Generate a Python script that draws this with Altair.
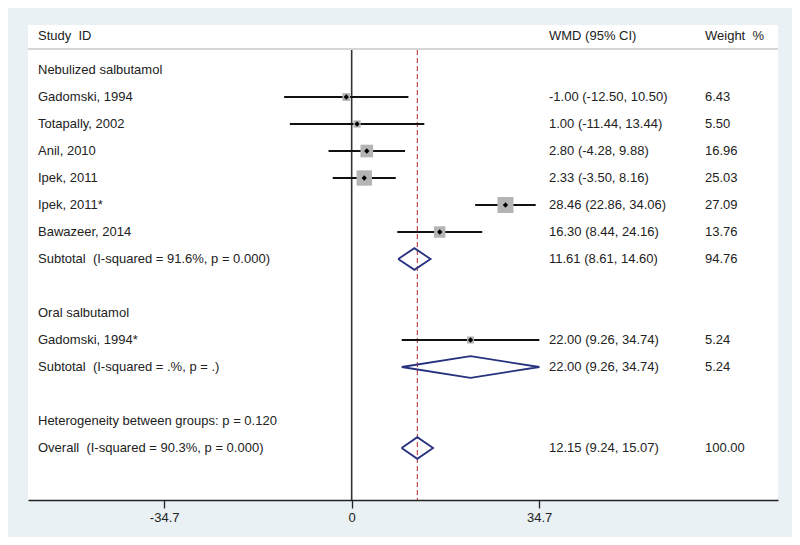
import altair as alt
import pandas as pd

# ---- data ----
row_labels = [
    "Nebulized salbutamol", "Gadomski, 1994", "Totapally, 2002", "Anil, 2010",
    "Ipek, 2011", "Ipek, 2011*", "Bawazeer, 2014",
    "Subtotal\u00a0\u00a0(I-squared = 91.6%, p = 0.000)", "",
    "Oral salbutamol", "Gadomski, 1994*",
    "Subtotal\u00a0\u00a0(I-squared = .%, p = .)", "",
    "Heterogeneity between groups: p = 0.120",
    "Overall\u00a0\u00a0(I-squared = 90.3%, p = 0.000)",
]

study_rows = [1, 2, 3, 4, 5, 6, 10]
study_est = [-1.00, 1.00, 2.80, 2.33, 28.46, 16.30, 22.00]
study_lo = [-12.50, -11.44, -4.28, -3.50, 22.86, 8.44, 9.26]
study_hi = [10.50, 13.44, 9.88, 8.16, 34.06, 24.16, 34.74]
study_w = ["6.43", "5.50", "16.96", "25.03", "27.09", "13.76", "5.24"]

sum_rows = [7, 11, 14]
sum_est = [11.61, 22.00, 12.15]
sum_lo = [8.61, 9.26, 9.24]
sum_hi = [14.60, 34.74, 15.07]
sum_w = ["94.76", "5.24", "100.00"]

overall_est = 12.15
x_ticks = [-34.7, 0, 34.7]

# ---- tables ----
FONT = "Liberation Sans"
TXT = "#222222"

studies = pd.DataFrame({
    "row": study_rows, "est": study_est, "lo": study_lo, "hi": study_hi,
    "w": [float(w) for w in study_w], "wtxt": study_w,
})
studies["ci"] = [f"{e:.2f} ({l:.2f}, {h:.2f})" for e, l, h in zip(study_est, study_lo, study_hi)]

sums = pd.DataFrame({"row": sum_rows, "est": sum_est, "lo": sum_lo, "hi": sum_hi, "wtxt": sum_w})
sums["ci"] = [f"{e:.2f} ({l:.2f}, {h:.2f})" for e, l, h in zip(sum_est, sum_lo, sum_hi)]

dia = []
for g, (r, e, l, h) in enumerate(zip(sum_rows, sum_est, sum_lo, sum_hi)):
    pts = [(l, r), (e, r - 0.4), (h, r), (e, r + 0.4), (l, r)]
    for i, (xx, yy) in enumerate(pts):
        dia.append({"g": g, "i": i, "x": xx, "y": yy})
dia = pd.DataFrame(dia)

labels = pd.DataFrame({"row": list(range(len(row_labels))), "label": row_labels})
header = pd.DataFrame({"row": [-1.26], "a": ["Study\u00a0\u00a0ID"], "b": ["WMD (95% CI)"], "c": ["Weight\u00a0\u00a0%"]})

xs = alt.Scale(domain=[-59.9, 78.9], nice=False, zero=False)
ys = alt.Scale(domain=[-1.667, 15.926], reverse=True, nice=False, zero=False)
Y = lambda f: alt.Y(f, type="quantitative", scale=ys, axis=None)

def txt(df, field, xpx, rowfield="row"):
    return alt.Chart(df).mark_text(
        align="left", baseline="middle", font=FONT, fontSize=13, color=TXT
    ).encode(x=alt.value(xpx), y=Y(rowfield), text=f"{field}:N")

base_axis = alt.Chart(pd.DataFrame({"v": [0]})).mark_rule(color="#333333", strokeWidth=1.6).encode(
    x=alt.X("v:Q", scale=xs, axis=alt.Axis(
        values=x_ticks, title=None, grid=False, labelFont=FONT, labelFontSize=13,
        labelColor=TXT, tickSize=8, tickColor="#222222", domainColor="#222222",
        domainWidth=1.5, tickWidth=1.3, labelPadding=3,
        labelExpr="'' + datum.value")),
    y=alt.value(25), y2=alt.value(475),
)

sep = alt.Chart(pd.DataFrame({"v": [0]})).mark_rule(color="#d6d6d6", strokeWidth=2).encode(
    x=alt.value(0), x2=alt.value(750), y=alt.value(24)
)

ref = alt.Chart(pd.DataFrame({"v": [overall_est]})).mark_rule(
    color="#b5262c", strokeWidth=1, strokeDash=[5, 3]
).encode(x=alt.X("v:Q", scale=xs), y=alt.value(25), y2=alt.value(475))

squares = alt.Chart(studies).mark_square(color="#b4b4b4", opacity=1).encode(
    x=alt.X("est:Q", scale=xs), y=Y("row"),
    size=alt.Size("w:Q", scale=alt.Scale(domain=[0, 27.09], range=[0, 256], zero=True), legend=None),
)

ci = alt.Chart(studies).mark_rule(color="#111111", strokeWidth=2).encode(
    x=alt.X("lo:Q", scale=xs), x2="hi:Q", y=Y("row")
)

dots = alt.Chart(studies).mark_point(shape="diamond", filled=True, color="#000000", size=28, opacity=1).encode(
    x=alt.X("est:Q", scale=xs), y=Y("row")
)

diamonds = alt.Chart(dia).mark_line(color="#27327f", strokeWidth=1.8).encode(
    x=alt.X("x:Q", scale=xs), y=Y("y"), detail="g:N", order="i:Q"
)

chart = alt.layer(
    sep, base_axis, ref, ci, squares, dots, diamonds,
    txt(labels, "label", 10),
    txt(studies, "ci", 521), txt(studies, "wtxt", 677),
    txt(sums, "ci", 521), txt(sums, "wtxt", 677),
    txt(header, "a", 10), txt(header, "b", 521), txt(header, "c", 677),
).properties(
    width=750, height=475,
    autosize=alt.AutoSizeParams(type="none"),
    padding={"left": 20, "top": 17, "right": 14, "bottom": 37},
    background="#e9f1f4",
).configure_view(stroke=None, fill="#ffffff")

chart.save("out.html", embed_options={"renderer": "svg", "actions": False})
